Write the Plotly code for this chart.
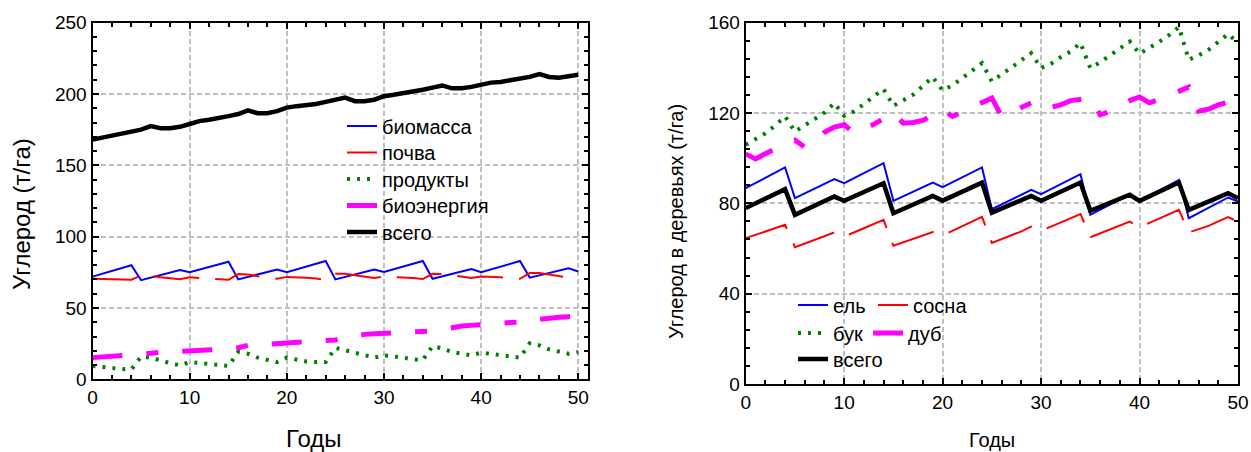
import plotly.graph_objects as go

years = list(range(51))

# Left panel: carbon pools (t/ha)
biomass = [72, 74, 76, 78, 80, 69.5, 71.2, 73, 74.8, 76.6,
           75, 76.8, 78.6, 80.5, 82.4, 70, 71.8, 73.5, 75.2, 77,
           75.1, 77, 78.9, 80.9, 82.9, 70, 71.8, 73.5, 75.3, 77,
           75.3, 77.2, 79.1, 81, 82.9, 70.5, 72.2, 73.8, 75.5, 77.3,
           75, 77, 79, 81, 82.9, 71.3, 72.9, 74.5, 76.2, 77.8, 75.6]
soil = [70.5, 70.3, 70.1, 70, 69.8, 72.8, 72.5, 71.5, 70.8, 70.2,
        71.5, 71.2, 70.8, 70.3, 69.8, 73.8, 73.5, 72.3, 71.3, 70.5,
        71.8, 71.6, 71.2, 70.6, 69.8, 74, 74, 73, 72, 71,
        72, 71.8, 71.4, 71, 70.3, 74, 73.8, 72.8, 71.8, 71,
        72, 72, 71.5, 71.2, 70.5, 74.5, 74.5, 73.5, 72.5, 71.2, 71]
products = [9.3, 8.5, 8.2, 7.2, 6.9, 15.9, 15.2, 13.1, 11.3, 9.8,
            12.1, 11.5, 11, 10, 9.3, 19.1, 17.9, 15.2, 13.5, 12.1,
            15.2, 13.8, 12.5, 12.1, 12.1, 22.1, 20.5, 18.2, 16.8, 15.2,
            16.8, 16.3, 15.2, 14, 13.5, 23.3, 21.6, 19.1, 17.9, 16.8,
            18.7, 17.9, 16.8, 16.3, 15.2, 25.2, 23.8, 21, 19.1, 17.9, 19.1]
bioenergy = [15.2, 15.6, 16, 16.5, 16.8, 17.5, 18.2, 19, 19.2, 19.5,
             19.8, 20.2, 20.5, 20.8, 21.2, 22.1, 23.8, 24.2, 24.7, 25.2,
             25.8, 26.4, 26.9, 27.1, 27.3, 27.6, 29.2, 30.5, 31.5, 32,
             32.3, 32.8, 33.1, 33.1, 33.1, 33.8, 35, 36.5, 37.3, 37.8,
             38.5, 39.2, 39.5, 39.8, 40.1, 40.3, 42, 43, 43.5, 43.9, 44.2]
total_pools = [168, 169.5, 170.5, 172, 173.5, 175, 177.5, 176, 176, 177,
               179, 181, 182, 183, 184.5, 186, 188.5, 186.5, 186.5, 188,
               190.5, 191.5, 192, 193, 194.5, 196, 197.5, 195, 195, 196,
               198.5, 199.5, 200.5, 201.5, 203, 204.5, 206, 204, 204, 205,
               206.5, 208, 208.5, 209.5, 211, 212, 214, 212, 211.5, 212.5, 213.5]

# Right panel: carbon in trees by species (t/ha)
spruce = [86.7, 89, 91.3, 93.6, 95.9, 82.3, 84.4, 86.5, 88.6, 90.7,
          88.9, 91.1, 93.3, 95.5, 97.8, 81.1, 83.1, 85.1, 87.1, 89.2,
          87.2, 89.4, 91.6, 93.8, 95.9, 77.4, 79.5, 81.7, 83.8, 86,
          84.1, 86.3, 88.5, 90.7, 92.9, 74.9, 77.2, 79.5, 81.8, 84,
          81, 83.3, 85.6, 88, 90.4, 73.4, 75.7, 78, 80.3, 82.6, 80.8]
pine = [64.6, 66.1, 67.5, 69, 70.5, 60.6, 62.2, 63.9, 65.5, 67.1,
        65.3, 67.1, 69, 70.8, 72.7, 61.2, 62.8, 64.3, 65.8, 67.3,
        65.8, 67.9, 70, 72, 74, 62.5, 64.2, 65.8, 67.6, 69.7,
        67.9, 69.7, 71.6, 73.4, 75.3, 65, 66.7, 68.4, 70.2, 71.9,
        69.4, 71.3, 73.2, 75.1, 77.1, 67.1, 68.5, 70, 72, 73.9, 71.9]
beech = [105.9, 108.5, 111, 114.5, 118.5, 111.8, 114.3, 117.3, 120.2, 124.4,
         118.8, 120.7, 124, 127.1, 130.6, 123.2, 125.6, 128.1, 132, 135.9,
         130, 132.3, 135.5, 138.7, 142.1, 134, 137, 140.5, 143.5, 146.5,
         139.9, 141.8, 144.8, 147.3, 151, 139.9, 142.5, 145.5, 148.3, 151.7,
         146.3, 148.8, 151.5, 154.5, 158.1, 143.6, 145.5, 148, 151.5, 155, 151]
oak = [101.9, 99.7, 102, 104.4, 106.2, 108, 104.9, 107.5, 111.5, 113.8,
       114.8, 111.1, 113, 115, 117.5, 120.2, 115.5, 115.8, 116.7, 119.5,
       121.7, 118.5, 120.5, 122.5, 124.7, 126.6, 118.5, 120.5, 122.6, 124.5,
       121.5, 122.5, 123.6, 125.5, 126, 126.6, 119.2, 120.7, 123, 125.5,
       127.1, 124.5, 126, 127.8, 129.5, 131.5, 120.8, 121.7, 123.6, 124.8, 126]
total_trees = [77.9, 80, 82.1, 84.2, 86.3, 74.9, 76.9, 78.9, 81, 83,
               81.1, 83.1, 85, 87, 88.9, 75.6, 77.5, 79.4, 81.4, 83.3,
               81.2, 83.2, 85.2, 87.2, 89.2, 75.9, 77.8, 79.6, 81.5, 83.3,
               81.1, 83.1, 85.1, 87.2, 89.2, 76.7, 78.5, 80.3, 82, 83.8,
               81.1, 83.1, 85.1, 87.2, 89.2, 77.1, 78.9, 80.8, 82.6, 84.5, 82.3]

FONT = "Liberation Sans, Arial, sans-serif"
W, H = 1251, 452

BLUE = dict(color="#0000ff", width=2)
RED = dict(color="#ff0000", width=2, dash="46px,16px")
GREEN = dict(color="#008000", width=4, dash="3px,7px")
MAGENTA = dict(color="#ff00ff", width=5, dash="30px,24px,12px,24px")
BLACK = dict(color="#000000", width=4.5)


def px_x(p):
    return p / W


def px_y(p):
    return 1 - p / H


fig = go.Figure()

# every entry gets its own legend box so rows/columns can be placed freely
left_series = [
    ("биомасса", biomass, BLUE, "legend"),
    ("почва", soil, RED, "legend2"),
    ("продукты", products, GREEN, "legend3"),
    ("биоэнергия", bioenergy, MAGENTA, "legend4"),
    ("всего", total_pools, BLACK, "legend5"),
]
for name, vals, line, lg in left_series:
    fig.add_trace(go.Scatter(x=years, y=vals, name=name, mode="lines",
                             line=line, xaxis="x", yaxis="y", legend=lg))

right_series = [
    ("ель", spruce, BLUE, "legend6"),
    ("сосна", pine, RED, "legend7"),
    ("бук", beech, GREEN, "legend8"),
    ("дуб", oak, MAGENTA, "legend9"),
    ("всего", total_trees, BLACK, "legend10"),
]
for name, vals, line, lg in right_series:
    fig.add_trace(go.Scatter(x=years, y=vals, name=name, mode="lines",
                             line=line, xaxis="x2", yaxis="y2", legend=lg))

tick_font = dict(family=FONT, size=19, color="black")


def axis_style(**kw):
    d = dict(showline=True, linecolor="black", linewidth=2, mirror="ticks",
             ticks="inside", ticklen=6, tickwidth=1.5, tickcolor="black",
             showgrid=True, gridcolor="#c0c0c0", gridwidth=1.5, griddash="5px,3px",
             zeroline=False, tickfont=tick_font, fixedrange=True, automargin=False,
             minor=dict(ticks="inside", ticklen=4, tickwidth=1.5,
                        tickcolor="black", showgrid=False))
    d.update(kw)
    return d


legend_font = dict(family=FONT, size=20, color="black")


def entry_legend(x_px, row_center_px):
    return dict(orientation="h", x=px_x(x_px), y=px_y(row_center_px - 19.5),
                xanchor="left", yanchor="top", bgcolor="rgba(0,0,0,0)",
                font=legend_font)


fig.update_layout(
    template="none",
    width=W, height=H,
    showlegend=True,
    margin=dict(l=0, r=0, t=0, b=0, autoexpand=False),
    paper_bgcolor="white", plot_bgcolor="white",
    xaxis=axis_style(domain=[px_x(92.5), px_x(588)], range=[0, 51], dtick=10,
                     minor_dtick=2, anchor="y"),
    yaxis=axis_style(domain=[px_y(379.3), px_y(22.7)], range=[0, 250], dtick=50,
                     minor_dtick=10, anchor="x"),
    xaxis2=axis_style(domain=[px_x(745.7), px_x(1238)], range=[0, 50], dtick=10,
                      minor_dtick=2, anchor="y2"),
    yaxis2=axis_style(domain=[px_y(384), px_y(22.7)], range=[0, 160], dtick=40,
                      minor_dtick=8, anchor="x2"),
    legend=entry_legend(342, 126),
    legend2=entry_legend(342, 152.5),
    legend3=entry_legend(342, 179),
    legend4=entry_legend(342, 205.5),
    legend5=entry_legend(342, 232),
    legend6=entry_legend(793, 305),
    legend7=entry_legend(873, 305),
    legend8=entry_legend(793, 333),
    legend9=entry_legend(868, 333),
    legend10=entry_legend(793, 359),
    shapes=[
        # white backing behind the right-hand legend, above the grid
        dict(type="rect", xref="paper", yref="paper", layer="between",
             x0=px_x(795), x1=px_x(975), y0=px_y(367), y1=px_y(297),
             fillcolor="white", line=dict(width=0)),
    ],
    annotations=[
        dict(text="Углерод (т/га)", x=px_x(22), y=px_y(214), xref="paper", yref="paper",
             xanchor="center", yanchor="middle", textangle=-90, showarrow=False,
             font=dict(family=FONT, size=24, color="black")),
        dict(text="Годы", x=px_x(313), y=px_y(438), xref="paper", yref="paper",
             xanchor="center", yanchor="middle", showarrow=False,
             font=dict(family=FONT, size=24, color="black")),
        dict(text="Углерод в деревьях (т/га)", x=px_x(676), y=px_y(222), xref="paper",
             yref="paper", xanchor="center", yanchor="middle", textangle=-90,
             showarrow=False, font=dict(family=FONT, size=20, color="black")),
        dict(text="Годы", x=px_x(992), y=px_y(440), xref="paper", yref="paper",
             xanchor="center", yanchor="middle", showarrow=False,
             font=dict(family=FONT, size=20, color="black")),
    ],
)

fig.write_html("out.html")
